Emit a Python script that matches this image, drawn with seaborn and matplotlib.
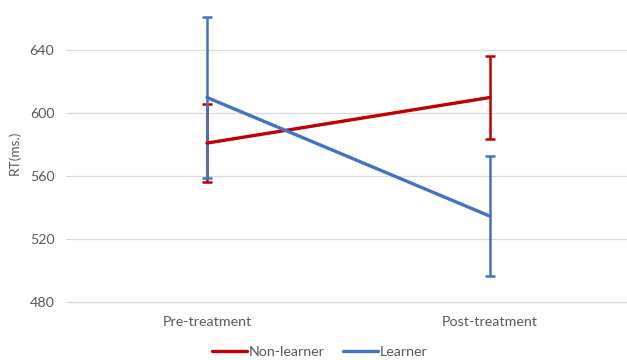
import matplotlib
matplotlib.use("Agg")
import matplotlib.pyplot as plt
import seaborn as sns
import pandas as pd

# Mean reaction times (ms) with error bar half-widths
phases = ["Pre-treatment", "Post-treatment"]
groups = ["Non-learner", "Learner"]
non_learner_rt = [581, 610]
non_learner_err = [25, 26.5]
learner_rt = [610, 534.5]
learner_err = [51, 38]
y_ticks = [480, 520, 560, 600, 640]

colors = {"Non-learner": "#C00000", "Learner": "#4472C4"}
text_color = "#595959"

df = pd.DataFrame({
    "phase": phases * 2,
    "group": [groups[0]] * 2 + [groups[1]] * 2,
    "rt": non_learner_rt + learner_rt,
    "err": non_learner_err + learner_err,
})

sns.set_theme(style="white")
plt.rcParams["font.family"] = ["Lato", "DejaVu Sans"]
fs = 10.3

fig = plt.figure(figsize=(6.27, 3.6), dpi=100)
ax = fig.add_axes([65.5 / 627, 55 / 360, 566 / 627, 305 / 360])

sns.lineplot(data=df, x="phase", y="rt", hue="group", palette=colors,
             hue_order=groups, linewidth=2.4, ax=ax, sort=False,
             errorbar=None, zorder=3)

for g in groups:
    sub = df[df["group"] == g]
    ax.errorbar(sub["phase"], sub["rt"], yerr=sub["err"], fmt="none",
                ecolor=colors[g], elinewidth=1.8, capsize=3.5, capthick=1.8,
                zorder=2 if g == "Non-learner" else 2.5)

ax.set_xlim(-0.5, 1.5)
ax.set_ylim(478, 672)
ax.set_yticks(y_ticks)
ax.yaxis.grid(True, color="#D9D9D9", linewidth=0.9)
ax.set_axisbelow(True)
for s in ax.spines.values():
    s.set_visible(False)

ax.set_xlabel("")
ax.set_ylabel("RT(ms.)", color=text_color, fontsize=fs - 0.5, labelpad=6)
ax.tick_params(axis="both", colors=text_color, labelsize=fs, length=0, pad=8)

handles, labels = ax.get_legend_handles_labels()
ax.legend(handles, labels, loc="center", bbox_to_anchor=(254.5 / 566, -47 / 305),
          ncol=2, frameon=False, fontsize=fs, handlelength=2.4,
          handletextpad=0.15, columnspacing=1.3, labelcolor=text_color)

fig.savefig("out.png", dpi=100)
